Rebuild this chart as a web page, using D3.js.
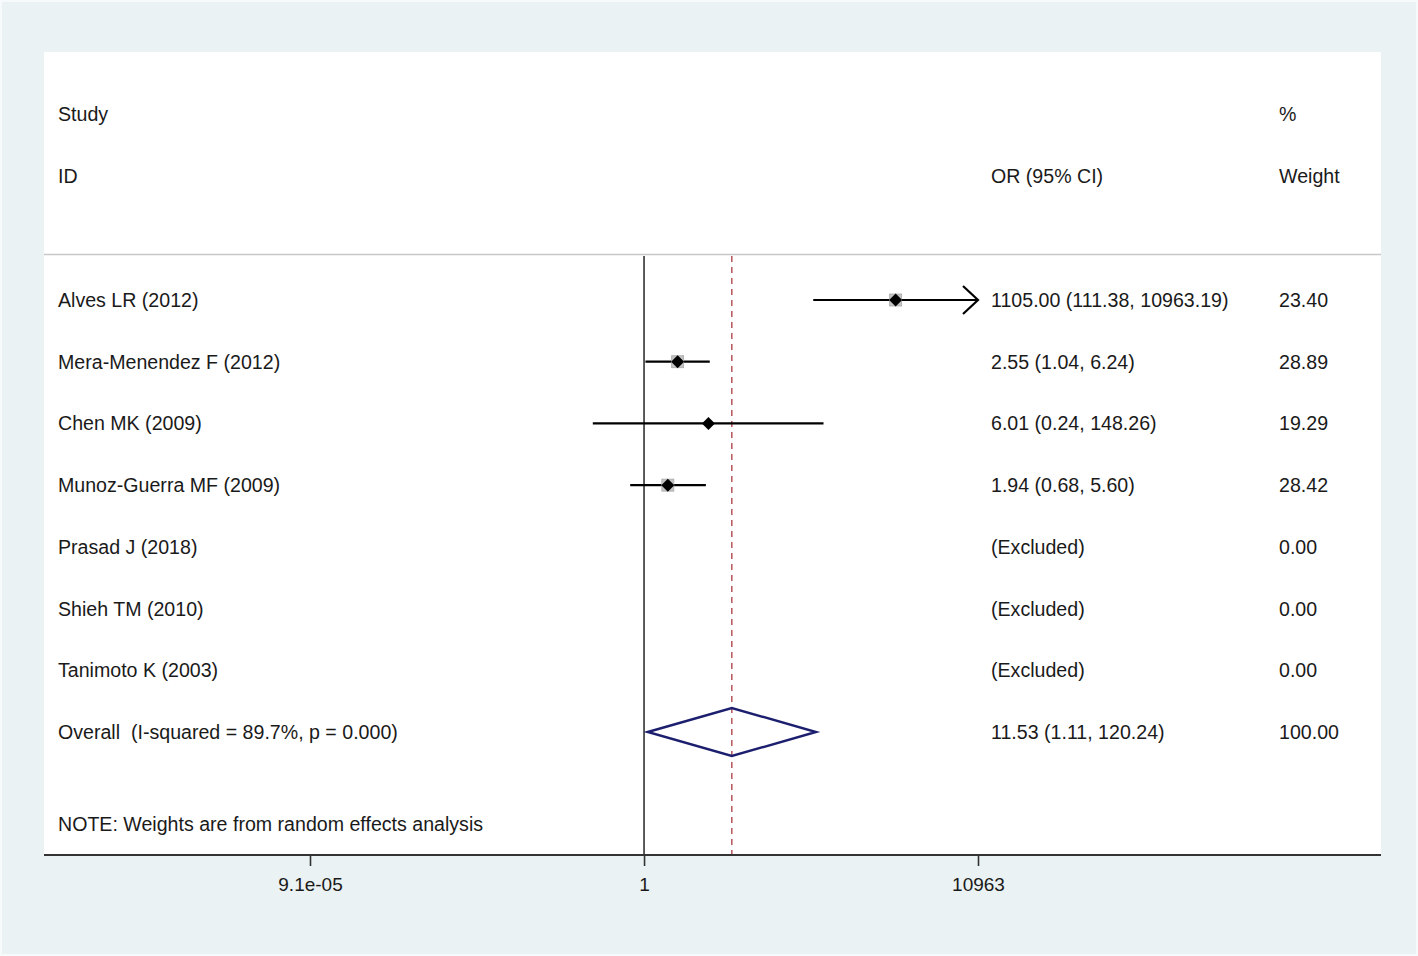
<!DOCTYPE html>
<html>
<head>
<meta charset="utf-8">
<script src="https://cdn.jsdelivr.net/npm/d3@7"></script>
<style>
body { margin: 0; background: #eaf2f3; }
svg text { font-family: "Liberation Sans", Arial, sans-serif; fill: #1a1a1a; }
</style>
</head>
<body>
<svg id="chart" width="1418" height="956"></svg>
<script>
// study rows
let studies = ['Alves LR (2012)', 'Mera-Menendez F (2012)', 'Chen MK (2009)', 'Munoz-Guerra MF (2009)',
  'Prasad J (2018)', 'Shieh TM (2010)', 'Tanimoto K (2003)']
let or_est = [1105.00, 2.55, 6.01, 1.94, null, null, null]
let ci_low = [111.38, 1.04, 0.24, 0.68, null, null, null]
let ci_high = [10963.19, 6.24, 148.26, 5.60, null, null, null]
let or_text = ['1105.00 (111.38, 10963.19)', '2.55 (1.04, 6.24)', '6.01 (0.24, 148.26)', '1.94 (0.68, 5.60)',
  '(Excluded)', '(Excluded)', '(Excluded)']
let weights = ['23.40', '28.89', '19.29', '28.42', '0.00', '0.00', '0.00']

let overall = {label: 'Overall  (I-squared = 89.7%, p = 0.000)', est: 11.53, low: 1.11, high: 120.24,
  text: '11.53 (1.11, 120.24)', weight: '100.00'}

let tick_values = [9.1e-05, 1, 10963]
let tick_labels = ['9.1e-05', '1', '10963']

let svg = d3.select('#chart')

// outer frame
svg.append('rect')
.attr('x', 1).attr('y', 1).attr('width', 1416).attr('height', 954)
.attr('fill', '#eaf2f3').attr('stroke', '#f7fafa').attr('stroke-width', 2)

// plot region
let p_left = 44, p_right = 1381, p_top = 52, p_bottom = 855

svg.append('rect')
.attr('x', p_left).attr('y', p_top).attr('width', p_right - p_left).attr('height', p_bottom - p_top)
.attr('fill', 'white')

let x = d3.scaleLog()
.domain([9.1e-05, 10963])
.range([310, 978])

let rowY = d3.scaleLinear()
.domain([0, 7])
.range([300, 732])

let colStudy = 58, colOR = 991, colW = 1279
let fs = 19.6

// header
svg.append('text').attr('x', colStudy).attr('y', 121).attr('font-size', fs).text('Study')
svg.append('text').attr('x', colStudy).attr('y', 183).attr('font-size', fs).text('ID')
svg.append('text').attr('x', colOR).attr('y', 183).attr('font-size', fs).text('OR (95% CI)')
svg.append('text').attr('x', colW).attr('y', 121).attr('font-size', fs).text('%')
svg.append('text').attr('x', colW).attr('y', 183).attr('font-size', fs).text('Weight')

svg.append('line')
.attr('x1', p_left).attr('x2', p_right).attr('y1', 254.5).attr('y2', 254.5)
.attr('stroke', '#c8c8c8').attr('stroke-width', 1.5)

// null line
svg.append('line')
.attr('x1', x(1)).attr('x2', x(1)).attr('y1', 256).attr('y2', p_bottom)
.attr('stroke', '#333').attr('stroke-width', 1.6)

// overall line
svg.append('line')
.attr('x1', x(overall.est)).attr('x2', x(overall.est)).attr('y1', 256).attr('y2', p_bottom)
.attr('stroke', '#b0484f').attr('stroke-width', 1.4).attr('stroke-dasharray', '6,5')

let rows = studies.map((s, i) => ({study: s, est: or_est[i], low: ci_low[i], high: ci_high[i],
  text: or_text[i], weight: weights[i], i: i}))

let g = svg.append('g')

let est_rows = rows.filter(d => d.est != null)

// CI lines, clipped at axis end
g.selectAll('.ci').data(est_rows).enter()
.append('line')
.attr('x1', d => x(Math.max(d.low, 9.1e-05)))
.attr('x2', d => x(Math.min(d.high, 10963)))
.attr('y1', d => rowY(d.i)).attr('y2', d => rowY(d.i))
.attr('stroke', 'black').attr('stroke-width', 2.2)

// arrow for CI reaching the edge
g.selectAll('.arrow').data(est_rows.filter(d => d.high >= 10963)).enter()
.append('path')
.attr('d', d => {
  let xe = x(10963), y = rowY(d.i)
  return `M${xe - 15},${y - 14}L${xe},${y}L${xe - 15},${y + 14}`
})
.attr('fill', 'none').attr('stroke', 'black').attr('stroke-width', 2.2)

// weight boxes
g.selectAll('.box').data(est_rows.filter(d => d.i != 2)).enter()
.append('rect')
.attr('x', d => x(d.est) - 6).attr('y', d => rowY(d.i) - 6)
.attr('width', 12).attr('height', 12)
.attr('fill', '#c4c4c4').attr('stroke', '#a8a8a8').attr('stroke-width', 0.8)

// point markers
g.selectAll('.pt').data(est_rows).enter()
.append('path')
.attr('d', d => {
  let cx = x(d.est), cy = rowY(d.i), r = 6.5
  return `M${cx},${cy - r}L${cx + r},${cy}L${cx},${cy + r}L${cx - r},${cy}Z`
})
.attr('fill', 'black')

// text columns
g.selectAll('.lab').data(rows).enter()
.append('text').attr('x', colStudy).attr('y', d => rowY(d.i) + 7).attr('font-size', fs).text(d => d.study)

g.selectAll('.ortxt').data(rows).enter()
.append('text').attr('x', colOR).attr('y', d => rowY(d.i) + 7).attr('font-size', fs).text(d => d.text)

g.selectAll('.wtxt').data(rows).enter()
.append('text').attr('x', colW).attr('y', d => rowY(d.i) + 7).attr('font-size', fs).text(d => d.weight)

// overall diamond
let oy = rowY(7)
svg.append('path')
.attr('d', `M${x(overall.low)},${oy}L${x(overall.est)},${oy - 24}L${x(overall.high)},${oy}L${x(overall.est)},${oy + 24}Z`)
.attr('fill', 'none').attr('stroke', '#1c1f6e').attr('stroke-width', 2.4)

svg.append('text').attr('x', colStudy).attr('y', oy + 7).attr('font-size', fs).attr('xml:space', 'preserve').text(overall.label)
svg.append('text').attr('x', colOR).attr('y', oy + 7).attr('font-size', fs).text(overall.text)
svg.append('text').attr('x', colW).attr('y', oy + 7).attr('font-size', fs).text(overall.weight)

svg.append('text').attr('x', colStudy).attr('y', 831).attr('font-size', fs)
.text('NOTE: Weights are from random effects analysis')

// x axis
let axis = d3.axisBottom(x)
.tickValues(tick_values)
.tickFormat((d, i) => tick_labels[i])
.tickSize(11)
.tickSizeOuter(0)

let ax = svg.append('g')
.attr('transform', `translate(0,${p_bottom})`)
.call(axis)

ax.select('.domain').remove()
ax.append('line')
.attr('x1', p_left).attr('x2', p_right).attr('y1', 0).attr('y2', 0)
.attr('stroke', '#333').attr('stroke-width', 2)

ax.selectAll('.tick line').attr('stroke', '#333').attr('stroke-width', 1.6)
ax.selectAll('.tick text')
.attr('font-size', 19).attr('fill', '#1a1a1a').attr('dy', '0.71em').attr('y', 23)
.style('font-family', '"Liberation Sans", Arial, sans-serif')
</script>
</body>
</html>
